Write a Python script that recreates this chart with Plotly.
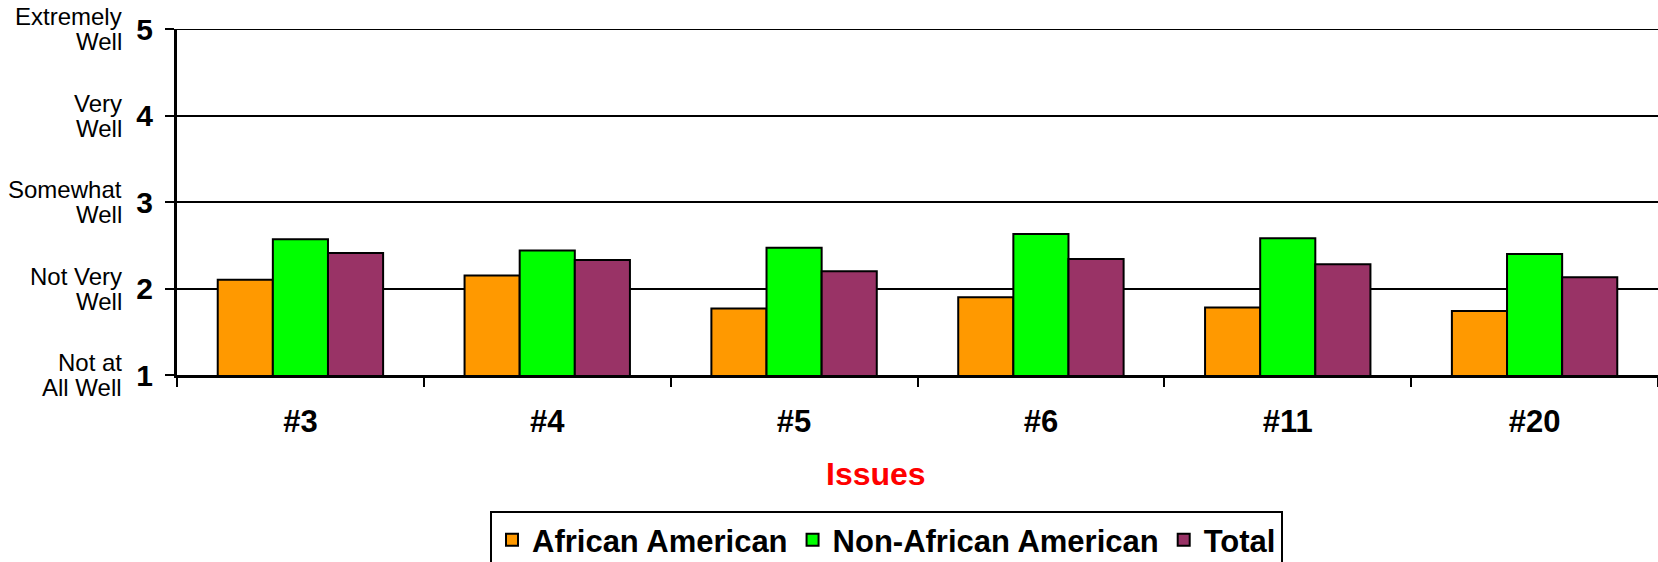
import plotly.graph_objects as go

# Mean ratings per issue (1 = Not at All Well ... 5 = Extremely Well)
issues = ["#3", "#4", "#5", "#6", "#11", "#20"]
african_american = [2.10, 2.15, 1.77, 1.90, 1.78, 1.74]
non_african_american = [2.57, 2.44, 2.47, 2.63, 2.58, 2.40]
total = [2.41, 2.33, 2.20, 2.34, 2.28, 2.13]

series_names = ["African American", "Non-African American", "Total"]
series_colors = ["#FF9900", "#00FF00", "#993366"]

scale_values = [1, 2, 3, 4, 5]
scale_upper = ["Not at", "Not Very", "Somewhat", "Very", "Extremely"]
scale_lower = ["All Well", "Well", "Well", "Well", "Well"]
x_title = "Issues"

FONT = "Liberation Sans, Arial, sans-serif"

fig = go.Figure()
for name, vals, color in zip(series_names,
                             [african_american, non_african_american, total],
                             series_colors):
    fig.add_trace(go.Bar(
        x=issues, y=vals, name=name,
        marker=dict(color=color, line=dict(color="black", width=2)),
    ))

W, H = 1658, 562
ML, MR, MT, MB = 177, 0, 29, 187
PW = W - ML - MR
PH = H - MT - MB

annotations = []
label_x = (124 - ML) / PW
for v, up, low in zip(scale_values, scale_upper, scale_lower):
    for txt, shift in ((up, 12.5), (low, -12.5)):
        annotations.append(dict(
            x=label_x, xref="paper", xanchor="right",
            y=v, yref="y", yanchor="middle", yshift=shift,
            text=txt, showarrow=False, align="right",
            font=dict(family=FONT, size=24, color="black"),
        ))
annotations.append(dict(
    x=(876 - ML) / PW, xref="paper", xanchor="center",
    y=(MT + PH - 474) / PH, yref="paper", yanchor="middle",
    text="<b>%s</b>" % x_title, showarrow=False,
    font=dict(family=FONT, size=32, color="#FF0000"),
))

fig.update_layout(
    width=W, height=H,
    margin=dict(l=ML, r=MR, t=MT, b=MB, pad=0, autoexpand=False),
    paper_bgcolor="white", plot_bgcolor="white",
    barmode="group", bargap=0.33, bargroupgap=0,
    font=dict(family=FONT, color="black"),
    showlegend=True,
    legend=dict(
        orientation="h",
        x=(490 - ML) / PW, xanchor="left",
        y=(MT + PH - 511) / PH, yanchor="top",
        bordercolor="black", borderwidth=2,
        font=dict(family=FONT, size=31, color="black", weight="bold"),
        itemclick=False, itemdoubleclick=False,
    ),
    annotations=annotations,
    # top gridline at the "Extremely Well" level
    shapes=[dict(type="line", xref="paper", x0=0, x1=1, yref="y", y0=5, y1=5,
                 line=dict(color="black", width=2))],
)

fig.update_xaxes(
    type="category",
    showline=True, linecolor="black", linewidth=3,
    ticks="outside", tickson="boundaries", ticklen=9, tickwidth=2, tickcolor="black",
    tickfont=dict(family=FONT, size=31, color="black", weight="bold"),
    ticklabelstandoff=17,
    showgrid=False, zeroline=False,
)
fig.update_yaxes(
    range=[1, 5], tickvals=scale_values,
    ticktext=[str(v) for v in scale_values],
    showline=True, linecolor="black", linewidth=3,
    ticks="outside", ticklen=9, tickwidth=2, tickcolor="black",
    tickfont=dict(family=FONT, size=30, color="black", weight="bold"),
    ticklabelstandoff=6,
    showgrid=True, gridcolor="black", gridwidth=2,
    zeroline=False,
)

fig.write_html("out.html")
